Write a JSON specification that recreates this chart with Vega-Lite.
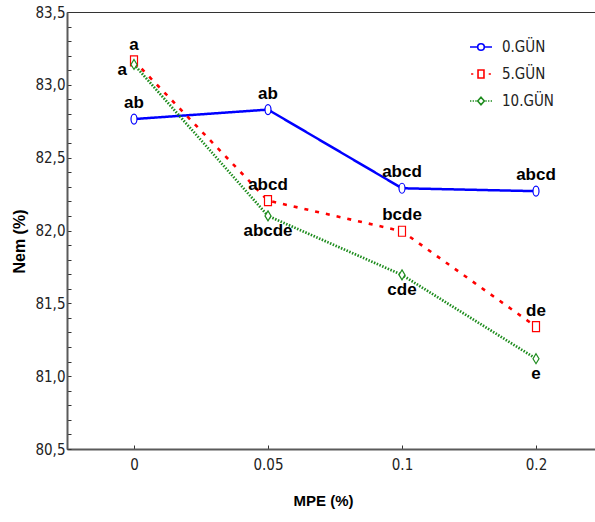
{
  "$schema": "https://vega.github.io/schema/vega-lite/v6.json",
  "width": 536,
  "height": 437,
  "autosize": "none",
  "padding": {"left": 67, "top": 12, "right": 0, "bottom": 73},
  "background": "white",
  "config": {"view": {"stroke": "#333", "strokeWidth": 1}},
  "data": {"values": [
    {"mpe": "0", "day": "0.GÜN", "nem": 82.765, "lab": "ab"},
    {"mpe": "0.05", "day": "0.GÜN", "nem": 82.83, "lab": "ab"},
    {"mpe": "0.1", "day": "0.GÜN", "nem": 82.29, "lab": "abcd"},
    {"mpe": "0.2", "day": "0.GÜN", "nem": 82.27, "lab": "abcd"},
    {"mpe": "0", "day": "5.GÜN", "nem": 83.165, "lab": "a"},
    {"mpe": "0.05", "day": "5.GÜN", "nem": 82.205, "lab": "abcd"},
    {"mpe": "0.1", "day": "5.GÜN", "nem": 81.995, "lab": "bcde"},
    {"mpe": "0.2", "day": "5.GÜN", "nem": 81.34, "lab": "de"},
    {"mpe": "0", "day": "10.GÜN", "nem": 83.14, "lab": "a"},
    {"mpe": "0.05", "day": "10.GÜN", "nem": 82.1, "lab": "abcde"},
    {"mpe": "0.1", "day": "10.GÜN", "nem": 81.695, "lab": "cde"},
    {"mpe": "0.2", "day": "10.GÜN", "nem": 81.12, "lab": "e"}
  ]},
  "encoding": {
    "x": {
      "field": "mpe", "type": "ordinal", "sort": ["0", "0.05", "0.1", "0.2"],
      "scale": {"type": "point", "padding": 0.5},
      "axis": {
        "orient": "bottom", "title": "MPE (%)", "labelAngle": 0, "tickSize": -4, "tickColor": "#333", "tickWidth": 1,
        "domainColor": "#5a5a5a", "domainWidth": 2, "grid": false,
        "labelFont": "DejaVu Sans Condensed, Liberation Sans, sans-serif", "labelFontSize": 15, "labelColor": "#222", "labelPadding": 12,
        "titleFont": "Liberation Sans", "titleFontWeight": "bold", "titleFontSize": 15, "titleColor": "#000",
        "titleX": 256, "titleY": 51, "titleBaseline": "middle", "titleAlign": "center"
      }
    },
    "y": {
      "field": "nem", "type": "quantitative",
      "scale": {"domain": [80.5, 83.5], "nice": false, "zero": false},
      "axis": {
        "title": "Nem (%)",
        "values": [80.5, 80.6, 80.7, 80.8, 80.9, 81.0, 81.1, 81.2, 81.3, 81.4, 81.5, 81.6, 81.7, 81.8, 81.9, 82.0, 82.1, 82.2, 82.3, 82.4, 82.5, 82.6, 82.7, 82.8, 82.9, 83.0, 83.1, 83.2, 83.3, 83.4, 83.5],
        "labelExpr": "abs(datum.value*2 - round(datum.value*2)) < 0.01 ? replace(format(datum.value, '.1f'), '.', ',') : ''",
        "labelOverlap": false, "labelBound": false, "labelFlush": false,
        "tickSize": -4, "tickColor": "#333", "tickWidth": 1,
        "domainColor": "#5a5a5a", "domainWidth": 2, "grid": false,
        "labelFont": "DejaVu Sans Condensed, Liberation Sans, sans-serif", "labelFontSize": 15, "labelColor": "#222", "labelPadding": 6,
        "titleFont": "Liberation Sans", "titleFontWeight": "bold", "titleFontSize": 16, "titleColor": "#000",
        "titleAngle": -90, "titleX": -48, "titleY": 229, "titleBaseline": "middle", "titleAlign": "center"
      }
    }
  },
  "layer": [
    {
      "mark": {"type": "line", "strokeCap": "butt"},
      "encoding": {
        "color": {"field": "day", "type": "nominal", "scale": {"domain": ["0.GÜN", "5.GÜN", "10.GÜN"], "range": ["#0000ff", "#ff0000", "#1e8c1e"]}, "legend": null},
        "strokeDash": {"field": "day", "type": "nominal", "scale": {"domain": ["0.GÜN", "5.GÜN", "10.GÜN"], "range": [[1, 0], [4, 7], [1.5, 1.5]]}, "legend": null},
        "strokeWidth": {"field": "day", "type": "nominal", "scale": {"domain": ["0.GÜN", "5.GÜN", "10.GÜN"], "range": [2.5, 2.7, 2]}, "legend": null}
      }
    },
    {
      "mark": {"type": "point", "fill": "white", "fillOpacity": 1, "strokeWidth": 1.2, "size": 100, "opacity": 1},
      "encoding": {
        "stroke": {"field": "day", "type": "nominal", "scale": {"domain": ["0.GÜN", "5.GÜN", "10.GÜN"], "range": ["#0000ff", "#ff0000", "#1e8c1e"]}, "legend": null},
        "shape": {"field": "day", "type": "nominal", "scale": {"domain": ["0.GÜN", "5.GÜN", "10.GÜN"], "range": ["M0.6,0A0.6,1,0,1,1,-0.6,0A0.6,1,0,1,1,0.6,0Z", "M-0.7,-1L0.7,-1L0.7,1L-0.7,1Z", "M0,-1L0.6,0L0,1L-0.6,0Z"]}, "legend": null}
      }
    },
    {
      "transform": [{"filter": "datum.day != '10.GÜN'"}],
      "mark": {"type": "text", "font": "Liberation Sans", "fontWeight": "bold", "fontSize": 17, "color": "#000", "baseline": "middle", "dy": -16},
      "encoding": {"text": {"field": "lab"}}
    },
    {
      "transform": [{"filter": "datum.day == '10.GÜN' && datum.mpe != '0'"}],
      "mark": {"type": "text", "font": "Liberation Sans", "fontWeight": "bold", "fontSize": 17, "color": "#000", "baseline": "middle", "dy": 15},
      "encoding": {"text": {"field": "lab"}}
    },
    {
      "transform": [{"filter": "datum.day == '10.GÜN' && datum.mpe == '0'"}],
      "mark": {"type": "text", "font": "Liberation Sans", "fontWeight": "bold", "fontSize": 17, "color": "#000", "baseline": "middle", "align": "right", "dx": -7, "dy": 6},
      "encoding": {"text": {"field": "lab"}}
    },
    {
      "transform": [{"filter": "false"}],
      "mark": {"type": "point", "filled": false, "strokeWidth": 1.5},
      "encoding": {
        "color": {"field": "day", "type": "nominal", "legend": null},
        "shape": {"field": "day", "type": "nominal", "scale": {"domain": ["0.GÜN", "5.GÜN", "10.GÜN"], "range": [
          "M-1,0L-0.3,0M0.3,0L1,0M0.3,0A0.3,0.3,0,1,1,-0.3,0A0.3,0.3,0,1,1,0.3,0Z",
          "M-0.9,0L-0.7,0M0.7,0L0.9,0M-0.27,-0.36L0.27,-0.36L0.27,0.36L-0.27,0.36Z",
          "M-1,0L-0.88,0M-0.76,0L-0.64,0M-0.52,0L-0.4,0M0.4,0L0.52,0M0.64,0L0.76,0M0.88,0L1,0M0,-0.34L0.3,0L0,0.34L-0.3,0Z"
        ]}, "legend": {
          "orient": "none", "legendX": 402, "legendY": 23, "title": null, "padding": 0,
          "symbolSize": 484, "symbolStrokeWidth": 1.6, "symbolFillColor": "transparent",
          "symbolStrokeColor": {"expr": "scale('color', datum.value)"}, "symbolOpacity": 1,
          "labelFont": "DejaVu Sans Condensed, Liberation Sans, sans-serif", "labelFontSize": 15, "labelColor": "#222", "labelOffset": 9, "rowPadding": 7
        }}
      }
    }
  ],
  "resolve": {"scale": {"shape": "independent"}}
}
